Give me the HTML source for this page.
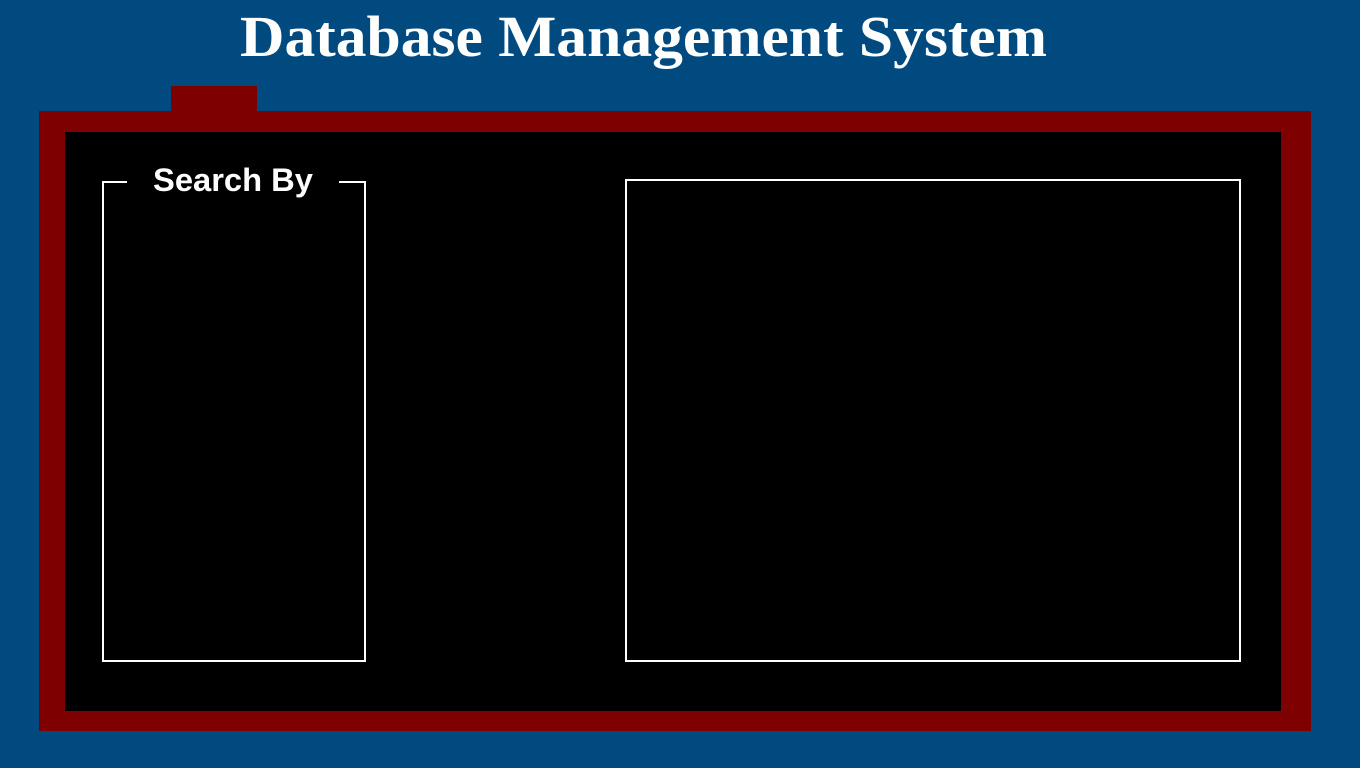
<!DOCTYPE html>
<html><head><meta charset="utf-8"><style>
html,body{margin:0;padding:0;width:1360px;height:768px;overflow:hidden;background:#004a7f;}
.abs{position:absolute;}
</style></head><body>
<div class="abs" style="left:171px;top:86px;width:86px;height:26px;background:#7f0000"></div>
<div class="abs" style="left:39px;top:111px;width:1272px;height:620px;background:#7f0000"></div>
<div class="abs" style="left:65px;top:132px;width:1216px;height:579px;background:#000"></div>
<div class="abs" style="left:102px;top:181px;width:260px;height:479px;border:2px solid #fff;border-top:none"></div>
<div class="abs" style="left:102px;top:181px;width:25px;height:2px;background:#fff"></div>
<div class="abs" style="left:339px;top:181px;width:27px;height:2px;background:#fff"></div>
<div class="abs" style="left:625px;top:179px;width:612px;height:479px;border:2px solid #fff"></div>
<svg class="abs" style="left:0;top:0" width="1360" height="768">
<text x="240" y="56" textLength="807" lengthAdjust="spacingAndGlyphs" font-family="Liberation Serif, serif" font-weight="bold" font-size="58" fill="#fff">Database Management System</text>
<text x="153" y="191" textLength="160" lengthAdjust="spacingAndGlyphs" font-family="Liberation Sans, sans-serif" font-weight="bold" font-size="32" fill="#fff">Search By</text>
</svg>
</body></html>
